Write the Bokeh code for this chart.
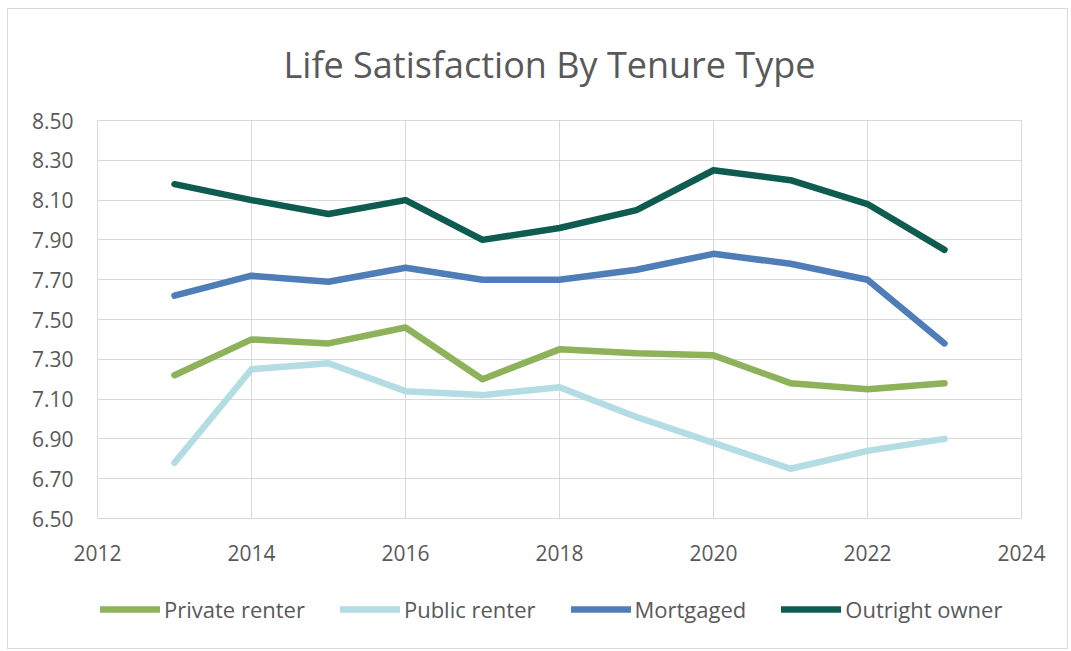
from bokeh.plotting import figure
from bokeh.layouts import column
from bokeh.models import (Title, Legend, LegendItem, FixedTicker, NumeralTickFormatter,
                          Range1d, ColumnDataSource)
from bokeh.embed import file_html
from bokeh.resources import INLINE

years = [2013, 2014, 2015, 2016, 2017, 2018, 2019, 2020, 2021, 2022, 2023]
private_renter = [7.22, 7.40, 7.38, 7.46, 7.20, 7.35, 7.33, 7.32, 7.18, 7.15, 7.18]
public_renter = [6.78, 7.25, 7.28, 7.14, 7.12, 7.16, 7.01, 6.88, 6.75, 6.84, 6.90]
mortgaged = [7.62, 7.72, 7.69, 7.76, 7.70, 7.70, 7.75, 7.83, 7.78, 7.70, 7.38]
outright_owner = [8.18, 8.10, 8.03, 8.10, 7.90, 7.96, 8.05, 8.25, 8.20, 8.08, 7.85]

series_names = ["Private renter", "Public renter", "Mortgaged", "Outright owner"]
series_values = [private_renter, public_renter, mortgaged, outright_owner]
series_colors = ["#8db25a", "#b3dce3", "#4f7db8", "#0e5c50"]

x_ticks = [2012, 2014, 2016, 2018, 2020, 2022, 2024]
y_ticks = [6.5, 6.7, 6.9, 7.1, 7.3, 7.5, 7.7, 7.9, 8.1, 8.3, 8.5]

FONT = "Open Sans"
TEXT_COLOR = "#595959"
GRID = "#d9d9d9"

# ---- main chart ----
p = figure(frame_width=924, frame_height=398, output_backend="svg", toolbar_location=None,
           x_range=Range1d(2012, 2024), y_range=Range1d(6.5, 8.5),
           min_border_left=89, min_border_right=46, min_border_top=111,
           min_border_bottom=60)

p.title = Title(text="Life Satisfaction By Tenure Type", align="left",
                vertical_align="top",
                text_font=FONT, text_font_size="36px", text_font_style="normal",
                text_color=TEXT_COLOR, offset=186, standoff=60)

for name, vals, col in zip(series_names, series_values, series_colors):
    src = ColumnDataSource(dict(x=years, y=vals))
    p.line("x", "y", source=src, line_color=col, line_width=6.5,
           line_cap="round", line_join="round")

p.xaxis.ticker = FixedTicker(ticks=x_ticks)
p.yaxis.ticker = FixedTicker(ticks=y_ticks)
p.yaxis.formatter = NumeralTickFormatter(format="0.00")
for ax in (p.xaxis[0], p.yaxis[0]):
    ax.major_label_text_font = FONT
    ax.major_label_text_font_size = "21px"
    ax.major_label_text_color = TEXT_COLOR
    ax.major_tick_line_color = None
    ax.minor_tick_line_color = None
    ax.axis_line_color = None
p.xaxis.major_label_standoff = 20
p.yaxis.major_label_standoff = 18

p.xgrid.ticker = FixedTicker(ticks=x_ticks)
p.ygrid.ticker = FixedTicker(ticks=y_ticks)
p.grid.grid_line_color = GRID
p.grid.grid_line_width = 1
p.outline_line_color = GRID
p.border_fill_color = "white"
p.background_fill_color = "white"

# ---- legend strip (series drawn out of view; only the legend shows) ----
leg = figure(width=1059, height=70, output_backend="svg", toolbar_location=None,
             x_range=Range1d(0, 1), y_range=Range1d(0, 1),
             x_axis_type=None, y_axis_type=None,
             min_border=0, min_border_left=0, min_border_right=0,
             min_border_top=0, min_border_bottom=0)
leg.grid.visible = False
leg.outline_line_color = None
leg.border_fill_color = "white"
leg.background_fill_color = "white"

items = []
for name, vals, col in zip(series_names, series_values, series_colors):
    r = leg.line(x=years, y=vals, line_color=col, line_width=6.5, line_cap="round")
    items.append(LegendItem(label=name, renderers=[r]))

legend = Legend(items=items, orientation="horizontal", location=(3, 24),
                label_text_font=FONT, label_text_font_size="22px",
                label_text_color=TEXT_COLOR, glyph_width=60, glyph_height=24,
                label_standoff=4, spacing=35, border_line_color=None,
                background_fill_alpha=0, margin=0, padding=0)
leg.add_layout(legend)

layout = column(p, leg, spacing=0,
                styles={"border": "1px solid #d9d9d9", "margin-left": "7px", "margin-top": "8px"})

open("out.html", "w").write(file_html(layout, INLINE))
